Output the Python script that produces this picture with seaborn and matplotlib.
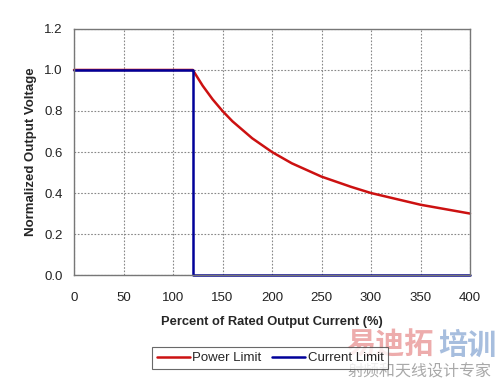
import matplotlib
matplotlib.use("Agg")
import matplotlib.pyplot as plt
import seaborn as sns
import pandas as pd

# Data
power_x = [0, 120, 130, 140, 150, 160, 180, 200, 220, 250, 280, 300, 350, 400]
power_y = [1.0, 1.0, 0.923, 0.857, 0.80, 0.75, 0.667, 0.60, 0.545, 0.48, 0.43, 0.40, 0.343, 0.30]
current_x = [0, 120, 120, 400]
current_y = [1.0, 1.0, 0.0, 0.0]
x_ticks = [0, 50, 100, 150, 200, 250, 300, 350, 400]
y_ticks = [0.0, 0.2, 0.4, 0.6, 0.8, 1.0, 1.2]

sns.set_style("white")
plt.rcParams['font.family'] = ['Liberation Sans', 'DejaVu Sans']

df = pd.concat([
    pd.DataFrame({"x": power_x, "y": power_y, "series": "Power Limit", "order": range(len(power_x))}),
    pd.DataFrame({"x": current_x, "y": current_y, "series": "Current Limit", "order": range(len(current_x))}),
], ignore_index=True)

fig = plt.figure(figsize=(5, 3.81), dpi=100)
ax = fig.add_axes([0.148, 0.278, 0.792, 0.646])

sns.lineplot(data=df, x="x", y="y", hue="series", sort=False, estimator=None,
             units="series", palette={"Power Limit": "#cc1111", "Current Limit": "#000099"},
             linewidth=1.8, ax=ax, legend=False, clip_on=False)

ax.set_xlim(0, 400)
ax.set_ylim(0, 1.2)
ax.set_xticks(x_ticks)
ax.set_yticks(y_ticks)
ax.set_xticklabels([str(v) for v in x_ticks], fontsize=9.5)
ax.set_yticklabels([f"{v:.1f}" for v in y_ticks], fontsize=9.5)
ax.tick_params(axis='x', length=0, pad=12, colors="#222222")
ax.tick_params(axis='y', length=0, pad=8, colors="#222222")
ax.grid(True, linestyle=(0, (1.5, 1.5)), color="#888888", linewidth=0.8)
for s in ax.spines.values():
    s.set_color("#777777")
    s.set_linewidth(1.0)
ax.set_xlabel("Percent of Rated Output Current (%)", fontsize=9.3, fontweight="bold", labelpad=9)
ax.set_ylabel("Normalized Output Voltage", fontsize=9.5, fontweight="bold", labelpad=5)

from matplotlib.lines import Line2D
handles = [Line2D([], [], color="#cc1111", lw=1.8), Line2D([], [], color="#000099", lw=1.8)]
leg = fig.legend(handles, ["Power Limit", "Current Limit"], loc="center",
                 bbox_to_anchor=(0.54, 0.06), ncol=2, frameon=True, fancybox=False,
                 edgecolor="#444444", fontsize=9.5, handlelength=2.5, handletextpad=0.2,
                 columnspacing=0.8, borderpad=0.35)
leg.get_frame().set_linewidth(0.8)

# Watermark
cjk = ['Noto Sans CJK SC', 'DejaVu Sans']
fig.text(0.692, 0.072, "易迪拓", fontsize=21, fontweight="bold", color="#e89090", alpha=0.75,
         family=cjk, va="baseline", ha="left")
fig.text(0.876, 0.072, "培训", fontsize=21, fontweight="bold", color="#8aa8d4", alpha=0.75,
         family=cjk, va="baseline", ha="left")
fig.text(0.694, 0.012, "射频和天线设计专家", fontsize=11.5, color="#999999", alpha=0.85,
         family=cjk, va="baseline", ha="left")

fig.savefig("out.png", dpi=100)
